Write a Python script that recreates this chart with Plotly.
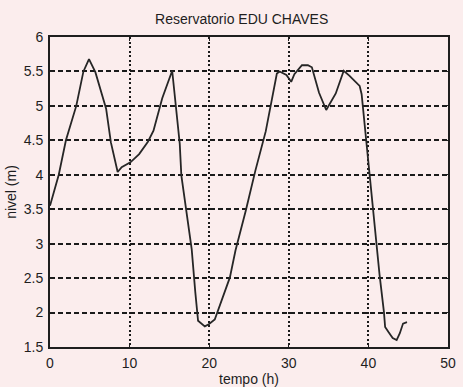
import plotly.graph_objects as go

# Reservoir level record (time in hours, level in metres)
tempo_h = [0.0, 1.1, 2.0, 3.3, 4.2, 4.9, 5.7, 7.05, 7.65, 8.5, 9.0, 10.1, 11.2,
           12.3, 13.0, 13.4, 14.1, 15.35, 15.8, 16.05, 16.3, 16.5, 17.1, 17.8,
           18.25, 18.6, 19.45, 19.95, 20.7, 21.6, 22.6, 23.3, 24.6, 25.8, 27.1,
           28.5, 28.85, 29.7, 30.3, 30.7, 31.65, 32.4, 32.9, 33.8, 34.7, 35.9,
           36.9, 37.6, 38.9, 39.15, 39.55, 40.45, 41.4, 41.95, 42.1, 42.5,
           43.05, 43.55, 43.95, 44.35, 44.85]
nivel_m = [3.55, 4.0, 4.5, 5.0, 5.5, 5.68, 5.49, 4.96, 4.47, 4.04, 4.11, 4.18,
           4.30, 4.48, 4.64, 4.82, 5.11, 5.51, 5.0, 4.82, 4.45, 3.99, 3.51, 2.92,
           2.30, 1.88, 1.80, 1.83, 1.90, 2.18, 2.51, 2.90, 3.48, 4.06, 4.63,
           5.47, 5.50, 5.45, 5.35, 5.46, 5.59, 5.59, 5.56, 5.19, 4.94, 5.18,
           5.51, 5.44, 5.29, 5.17, 4.70, 3.72, 2.55, 2.01, 1.79, 1.72,
           1.63, 1.60, 1.70, 1.84, 1.86]

x_ticks = [0, 10, 20, 30, 40, 50]
y_ticks = [1.5, 2, 2.5, 3, 3.5, 4, 4.5, 5, 5.5, 6]

paper = "#fbeded"
ink = "#1e1e1e"
font_family = "Liberation Sans, Arial, sans-serif"

fig = go.Figure()
fig.add_trace(go.Scatter(
    x=tempo_h, y=nivel_m, mode="lines",
    line=dict(color="#262626", width=1.8),
    showlegend=False,
))

axis_common = dict(
    showline=True, linecolor=ink, linewidth=2, mirror="ticks",
    ticks="inside", ticklen=4, tickcolor=ink,
    showgrid=True, gridcolor="#1a1a1a", gridwidth=1.5,
    zeroline=False, automargin=False,
    tickfont=dict(family=font_family, size=14, color=ink),
)

fig.update_xaxes(
    range=[0, 50], tickvals=x_ticks, ticktext=[str(v) for v in x_ticks],
    griddash="2px,2.5px", ticklabelstandoff=2,
    title=dict(text="tempo (h)", font=dict(family=font_family, size=14, color=ink),
               standoff=4),
    **axis_common,
)
fig.update_yaxes(
    range=[1.5, 6], tickvals=y_ticks, ticktext=[f"{v:g}" for v in y_ticks],
    griddash="5px,3px", ticklabelstandoff=2,
    title=dict(text="nivel (m)", font=dict(family=font_family, size=14, color=ink),
               standoff=4),
    **axis_common,
)

fig.update_layout(
    width=463, height=387,
    margin=dict(l=50, r=15, t=37, b=40),
    paper_bgcolor=paper, plot_bgcolor=paper,
    title=dict(text="Reservatorio EDU CHAVES", x=0.522, xanchor="center",
               y=0.95, yanchor="middle",
               font=dict(family=font_family, size=14, color=ink)),
)

fig.write_html("out.html")
